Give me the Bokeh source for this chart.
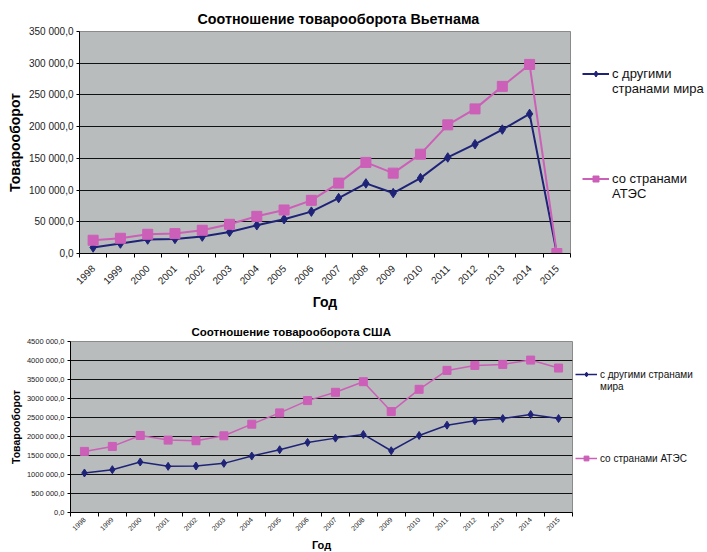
import numpy as np
from bokeh.plotting import figure
from bokeh.models import Range1d, FixedTicker, Legend, LegendItem
from bokeh.embed import file_html
from bokeh.resources import INLINE

years = [str(y) for y in range(1998, 2016)]

# Vietnam
vn_world = [9500, 15700, 22000, 23000, 26700, 34000, 44500, 54000, 66000, 87400,
            110500, 95300, 118900, 151400, 172300, 195400, 220100, 0]
vn_atec = [20900, 24000, 30300, 31400, 36600, 46000, 58600, 68600, 83800, 111000,
           143600, 126700, 156600, 202800, 228000, 263500, 298100, 0]
vn_yticks = [0, 50000, 100000, 150000, 200000, 250000, 300000, 350000]
vn_ylabels = ["0,0", "50 000,0", "100 000,0", "150 000,0", "200 000,0",
              "250 000,0", "300 000,0", "350 000,0"]

# USA
us_world = [1039800, 1127200, 1328200, 1214600, 1223300, 1293200, 1485400, 1651500,
            1843700, 1957300, 2053400, 1625200, 2027200, 2298100, 2411700, 2472800,
            2577700, 2472800]
us_atec = [1607800, 1738800, 2027200, 1904900, 1887400, 2018400, 2324300, 2621400,
           2944700, 3163100, 3442700, 2656300, 3241700, 3739800, 3870900, 3897100,
           4010700, 3801000]
us_yticks = [0, 500000, 1000000, 1500000, 2000000, 2500000, 3000000, 3500000, 4000000, 4500000]
us_ylabels = ["0,0", "500 000,0", "1000 000,0", "1500 000,0", "2000 000,0", "2500 000,0",
              "3000 000,0", "3500 000,0", "4000 000,0", "4500 000,0"]

title_vn = "Соотношение товарооборота  Вьетнама"
title_us = "Соотношение товарооборота США"
ylab = "Товарооборот"
xlab = "Год"
# legend texts: first line (with marker) and continuation line
vn_leg_first = ["с другими", "со странами"]
vn_leg_second = ["странами мира", "АТЭС"]
us_leg_first = ["с другими странами", "со странами АТЭС"]
us_leg_second = ["мира", None]

NAVY = "#1F2378"
PINK = "#CC5FB8"
BG = "#B8BCBC"
FONT = "Liberation Sans"


def make(world, atec, yticks, ylabels, cfg):
    n = len(years)
    xs = np.arange(n) + 0.5
    p = figure(frame_width=cfg["fw"], frame_height=cfg["fh"],
               min_border_left=cfg["bl"], min_border_right=cfg["br"],
               min_border_top=cfg["bt"], min_border_bottom=cfg["bb"],
               x_range=Range1d(0, n), y_range=Range1d(0, yticks[-1]),
               output_backend="svg", toolbar_location=None,
               background_fill_color=BG, border_fill_color="white",
               outline_line_color="#8A8A8A", title=cfg["title"])
    p.title.align = "left"
    p.title.offset = cfg["title_off"]
    p.title.standoff = cfg["title_so"]
    p.title.text_font = FONT
    p.title.text_font_style = "bold"
    p.title.text_font_size = cfg["title_fs"]
    p.title.text_color = "black"

    p.xgrid.visible = False
    p.ygrid.grid_line_color = "#111111"
    p.ygrid.grid_line_width = 1

    xa = p.xaxis[0]
    xa.ticker = FixedTicker(ticks=list(xs), minor_ticks=list(range(n + 1)))
    xa.major_label_overrides = {float(x): y for x, y in zip(xs, years)}
    xa.major_tick_out = 0
    xa.major_tick_in = 0
    xa.minor_tick_out = 4
    xa.minor_tick_in = 0
    xa.minor_tick_line_color = "black"
    xa.axis_line_color = "black"
    xa.major_label_orientation = np.pi / 4
    xa.major_label_text_font = FONT
    xa.major_label_text_font_size = cfg["tick_fs"]
    xa.major_label_text_color = "#222222"
    xa.major_label_standoff = cfg["xl_so"]
    xa.axis_label = xlab
    xa.axis_label_text_font = FONT
    xa.axis_label_text_font_style = "bold"
    xa.axis_label_text_font_size = cfg["xlab_fs"]
    xa.axis_label_text_color = "black"
    xa.axis_label_standoff = cfg["xlab_so"]

    ya = p.yaxis[0]
    ya.ticker = FixedTicker(ticks=yticks, minor_ticks=[])
    ya.major_label_overrides = {float(v): s for v, s in zip(yticks, ylabels)}
    ya.major_tick_out = 3
    ya.major_tick_in = 0
    ya.major_tick_line_color = "black"
    ya.axis_line_color = "black"
    ya.major_label_text_font = FONT
    ya.major_label_text_font_size = cfg["ytick_fs"]
    ya.major_label_text_color = "#222222"
    ya.major_label_standoff = 3
    ya.axis_label = ylab
    ya.axis_label_text_font = FONT
    ya.axis_label_text_font_style = "bold"
    ya.axis_label_text_font_size = cfg["lab_fs"]
    ya.axis_label_text_color = "black"
    ya.axis_label_standoff = cfg["ylab_so"]

    r1 = p.line(xs, world, line_color=NAVY, line_width=cfg["lw"])
    m1 = p.scatter(xs, world, marker="diamond", size=cfg["dsize"],
                   fill_color=NAVY, line_color=NAVY)
    r2 = p.line(xs, atec, line_color=PINK, line_width=cfg["lw"])
    m2 = p.scatter(xs, atec, marker="square", size=cfg["ssize"],
                   fill_color=PINK, line_color=PINK)
    dummy = p.line([], [], line_alpha=0)

    # legend rows: series entry, its continuation line, blank rows, next entry...
    first, second = cfg["first"], cfg["second"]
    items = [LegendItem(label=first[0], renderers=[r1, m1])]
    if second[0]:
        items.append(LegendItem(label=second[0], renderers=[dummy]))
    for _ in range(cfg["blanks"]):
        items.append(LegendItem(label=" ", renderers=[dummy]))
    items.append(LegendItem(label=first[1], renderers=[r2, m2]))
    if second[1]:
        items.append(LegendItem(label=second[1], renderers=[dummy]))

    leg = Legend(items=items, location=cfg["loc"], spacing=0, padding=0, margin=0,
                 border_line_color=None, background_fill_alpha=0,
                 glyph_width=cfg["gw"], glyph_height=cfg["gh"], label_standoff=3,
                 label_text_font=FONT, label_text_font_size=cfg["leg_fs"],
                 label_text_color="#111111", label_height=cfg["gh"])
    p.add_layout(leg, "right")
    return p


p1 = make(vn_world, vn_atec, vn_yticks, vn_ylabels, dict(
    fw=491, fh=222, bl=79, br=131, bt=31, bb=63,
    tick_fs="10px", ytick_fs="10px", lw=2, dsize=9.5, ssize=10, xl_so=9, xlab_so=3,
    first=vn_leg_first, second=vn_leg_second, blanks=5,
    loc=(12, 52), gw=27, gh=15,
    leg_fs="13px", title=title_vn, title_off=118, title_so=10, title_fs="14.3px",
    lab_fs="14px", ylab_so=3, xlab_fs="14px"))

p2 = make(us_world, us_atec, us_yticks, us_ylabels, dict(
    fw=502, fh=171, bl=70, br=127, bt=25, bb=40,
    tick_fs="7px", ytick_fs="7.5px", lw=1.5, dsize=8, ssize=8, xl_so=2, xlab_so=3,
    first=us_leg_first, second=us_leg_second, blanks=5,
    loc=(3, 48), gw=22, gh=12,
    leg_fs="10px", title=title_us, title_off=121, title_so=7, title_fs="11.5px",
    lab_fs="10.5px", ylab_so=2, xlab_fs="11px"))

open("out.html", "w").write(file_html([p1, p2], INLINE))
